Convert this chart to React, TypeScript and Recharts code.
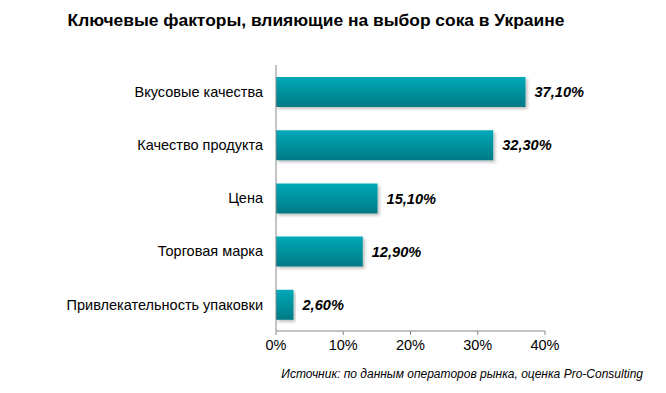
import React from "react";
import { BarChart, Bar, XAxis, YAxis, LabelList } from "recharts";

const categories = [
  "Вкусовые качества",
  "Качество продукта",
  "Цена",
  "Торговая марка",
  "Привлекательность  упаковки",
];
const values = [37.1, 32.3, 15.1, 12.9, 2.6];
const xTicks = [0, 10, 20, 30, 40];

const data = categories.map((name, i) => ({ name, value: values[i] }));

const fmt = (v: any) => Number(v).toFixed(2).replace(".", ",") + "%";

export default function App() {
  return (
    <div style={{ position: "absolute", left: 0, top: 0, width: 666, height: 393, background: "#fff", fontFamily: "'Liberation Sans', Arial, sans-serif" }}>
      <div style={{ position: "absolute", left: 0, width: 632, top: 10, textAlign: "center", fontSize: 17.4, fontWeight: "bold", color: "#000" }}>
        Ключевые факторы, влияющие на выбор сока в Украине
      </div>
      <BarChart
        width={666}
        height={393}
        data={data}
        layout="vertical"
        margin={{ top: 65, right: 121, bottom: 32, left: 0 }}
        barSize={30}
      >
        <defs>
          <linearGradient id="barGrad" x1="0" y1="0" x2="0" y2="1">
            <stop offset="0%" stopColor="#00a9b8" />
            <stop offset="100%" stopColor="#007a85" />
          </linearGradient>
          <filter id="shadow" x="-5%" y="-20%" width="115%" height="160%">
            <feDropShadow dx="2" dy="2" stdDeviation="1.5" floodColor="#000" floodOpacity="0.25" />
          </filter>
        </defs>
        <XAxis
          type="number"
          domain={[0, 40]}
          ticks={xTicks}
          tickFormatter={(v) => `${v}%`}
          axisLine={{ stroke: "#888" }}
          tickLine={{ stroke: "#888" }}
          tickSize={4}
          tickMargin={5}
          tick={{ fill: "#000", fontSize: 14.5 }}
          interval={0}
          height={30}
        />
        <YAxis
          type="category"
          dataKey="name"
          width={276}
          axisLine={{ stroke: "#888" }}
          tickLine={false}
          tickSize={0}
          tickMargin={13}
          tick={{ fill: "#000", fontSize: 14.5 }}
          interval={0}
        />
        <Bar dataKey="value" fill="url(#barGrad)" isAnimationActive={false} style={{ filter: "url(#shadow)" }}>
          <LabelList
            dataKey="value"
            position="right"
            offset={9}
            formatter={fmt}
            style={{ fill: "#000", fontSize: 14.6, fontWeight: "bold", fontStyle: "italic" }}
          />
        </Bar>
      </BarChart>
      <div style={{ position: "absolute", right: 23, top: 367, fontSize: 12, fontStyle: "italic", color: "#000" }}>
        Источник: по данным операторов рынка, оценка Pro-Consulting
      </div>
    </div>
  );
}
